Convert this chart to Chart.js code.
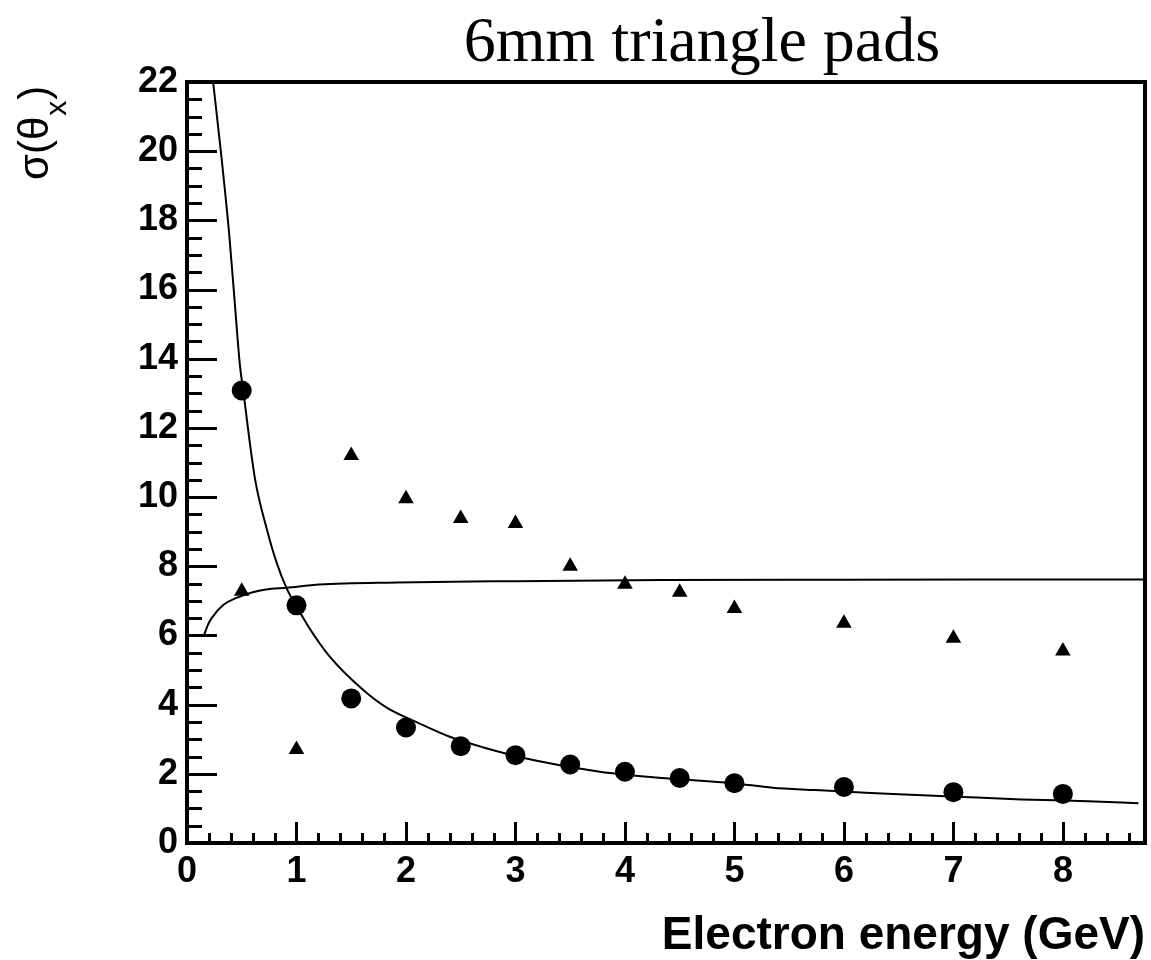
<!DOCTYPE html>
<html>
<head>
<meta charset="utf-8">
<script src="https://cdn.jsdelivr.net/npm/chart.js@4/dist/chart.umd.min.js"></script>
<style>
  html, body { margin: 0; padding: 0; background: #ffffff; overflow: hidden; }
  #wrap { width: 1151px; height: 960px; position: relative; }
  #c { display: block; }
</style>
</head>
<body>
<div id="wrap"><canvas id="c"></canvas></div>
<script>
// ---- data ----
const titleText = '6mm triangle pads';
const xTitle = 'Electron energy (GeV)';
const yTitleMain = 'σ(θ';
const yTitleSub = 'x';
const yTitleEnd = ')';

const energies = [0.5, 1, 1.5, 2, 2.5, 3, 3.5, 4, 4.5, 5, 6, 7, 8];
const circleSigma = [13.08, 6.87, 4.18, 3.34, 2.80, 2.54, 2.27, 2.06, 1.88, 1.73, 1.62, 1.47, 1.42];
const triangleSigma = [7.28, 2.70, 11.20, 9.95, 9.38, 9.24, 8.00, 7.48, 7.25, 6.78, 6.35, 5.92, 5.55];

const fit1E = [0.24, 0.316, 0.386, 0.438, 0.483, 0.513, 0.62, 0.725, 0.817, 0.91, 1.015, 1.12, 1.30, 1.61, 1.82, 2.12, 2.40, 2.70, 3.16, 3.77, 4.37, 4.98, 5.35, 5.74, 6.20, 6.50, 7.02, 7.62, 8.23, 8.69];
const fit1Sigma = [21.96, 19.79, 17.58, 15.55, 13.82, 13.09, 10.55, 9.12, 8.12, 7.36, 6.76, 6.20, 5.40, 4.42, 3.92, 3.46, 3.07, 2.77, 2.40, 2.06, 1.87, 1.73, 1.60, 1.53, 1.45, 1.41, 1.34, 1.26, 1.21, 1.15];

const fit2E = [0.155, 0.19, 0.225, 0.33, 0.44, 0.60, 0.72, 0.91, 1.21, 1.91, 3.0, 4.34, 6.0, 8.75];
const fit2Sigma = [6.00, 6.30, 6.50, 6.88, 7.07, 7.25, 7.33, 7.38, 7.47, 7.53, 7.57, 7.60, 7.61, 7.62];

const xTickLabels = ['0', '1', '2', '3', '4', '5', '6', '7', '8'];
const yTickLabels = ['0', '2', '4', '6', '8', '10', '12', '14', '16', '18', '20', '22'];

const toXY = (xs, ys) => xs.map((x, i) => ({ x: x, y: ys[i] }));

// ---- frame, inner ticks and texts ----
const framePlugin = {
  id: 'rootFrame',
  afterDraw(chart) {
    const ctx = chart.ctx;
    const a = chart.chartArea;
    const xs = chart.scales.x, ys = chart.scales.y;
    ctx.save();
    ctx.strokeStyle = '#000';
    ctx.lineCap = 'butt';
    ctx.lineWidth = 3;
    for (let i = 0; i <= 44; i++) {
      const v = i * 0.5;
      const py = Math.round(ys.getPixelForValue(v)) + 0.5;
      const len = (i % 4 === 0) ? 30 : 15;
      ctx.beginPath();
      ctx.moveTo(a.left, py);
      ctx.lineTo(a.left + len, py);
      ctx.stroke();
    }
    for (let i = 0; i <= 43; i++) {
      const v = i * 0.2;
      const px = Math.round(xs.getPixelForValue(v)) + 0.5;
      const len = (i % 5 === 0) ? 21 : 10;
      ctx.beginPath();
      ctx.moveTo(px, a.bottom);
      ctx.lineTo(px, a.bottom - len);
      ctx.stroke();
    }
    ctx.lineWidth = 4;
    ctx.strokeRect(a.left, a.top, a.right - a.left, a.bottom - a.top);

    ctx.fillStyle = '#000';
    ctx.font = '64px "Liberation Serif", "Times New Roman", serif';
    ctx.textAlign = 'center';
    ctx.textBaseline = 'alphabetic';
    ctx.fillText(titleText, 702, 61);

    ctx.translate(48, 180);
    ctx.rotate(-Math.PI / 2);
    ctx.textAlign = 'left';
    ctx.font = '42px "Liberation Sans", Arial, sans-serif';
    ctx.fillText(yTitleMain, 0, 0);
    let w = ctx.measureText(yTitleMain).width;
    ctx.font = '30px "Liberation Sans", Arial, sans-serif';
    ctx.fillText(yTitleSub, w + 1, 18);
    w += ctx.measureText(yTitleSub).width + 2;
    ctx.font = '42px "Liberation Sans", Arial, sans-serif';
    ctx.fillText(yTitleEnd, w, 0);
    ctx.restore();
  }
};

const tickFont = { family: '"Liberation Sans", Arial, sans-serif', size: 36, weight: 'bold' };

new Chart(document.getElementById('c'), {
  type: 'scatter',
  data: {
    datasets: [
      {
        label: 'fit 1',
        data: toXY(fit1E, fit1Sigma),
        showLine: true,
        borderColor: '#000',
        borderWidth: 2,
        pointRadius: 0,
        cubicInterpolationMode: 'monotone',
        fill: false
      },
      {
        label: 'fit 2',
        data: toXY(fit2E, fit2Sigma),
        showLine: true,
        borderColor: '#000',
        borderWidth: 2,
        pointRadius: 0,
        cubicInterpolationMode: 'monotone',
        fill: false
      },
      {
        label: 'circles',
        data: toXY(energies, circleSigma),
        pointStyle: 'circle',
        pointRadius: 10,
        backgroundColor: '#000',
        borderColor: '#000',
        borderWidth: 0
      },
      {
        label: 'triangles',
        data: toXY(energies, triangleSigma),
        pointStyle: 'triangle',
        pointRadius: 9,
        backgroundColor: '#000',
        borderColor: '#000',
        borderWidth: 0
      }
    ]
  },
  options: {
    responsive: true,
    maintainAspectRatio: false,
    animation: false,
    devicePixelRatio: 1,
    layout: { autoPadding: false, padding: { top: 82, right: 6, left: 0, bottom: 0 } },
    plugins: {
      legend: { display: false },
      tooltip: { enabled: false },
      title: { display: false }
    },
    scales: {
      x: {
        type: 'linear',
        min: 0,
        max: 8.75,
        grid: { display: false, drawTicks: false },
        border: { display: false },
        ticks: {
          stepSize: 1,
          includeBounds: false,
          autoSkip: false,
          maxRotation: 0,
          padding: 7,
          color: '#000',
          font: tickFont,
          callback: (v) => xTickLabels[Math.round(v)] ?? ''
        },
        title: {
          display: true,
          text: xTitle,
          align: 'end',
          color: '#000',
          font: { family: '"Liberation Sans", Arial, sans-serif', size: 46, weight: 'bold' },
          padding: { top: 0, bottom: -4 }
        },
        afterFit: (s) => { s.height = 117; s.paddingLeft = 0; s.paddingRight = 0; }
      },
      y: {
        type: 'linear',
        min: 0,
        max: 22,
        grid: { display: false, drawTicks: false },
        border: { display: false },
        ticks: {
          stepSize: 2,
          includeBounds: false,
          autoSkip: false,
          padding: 9,
          color: '#000',
          font: tickFont,
          callback: (v) => yTickLabels[Math.round(v / 2)] ?? ''
        },
        afterFit: (s) => { s.width = 187; s.paddingTop = 0; s.paddingBottom = 0; }
      }
    }
  },
  plugins: [framePlugin]
});
</script>
</body>
</html>
